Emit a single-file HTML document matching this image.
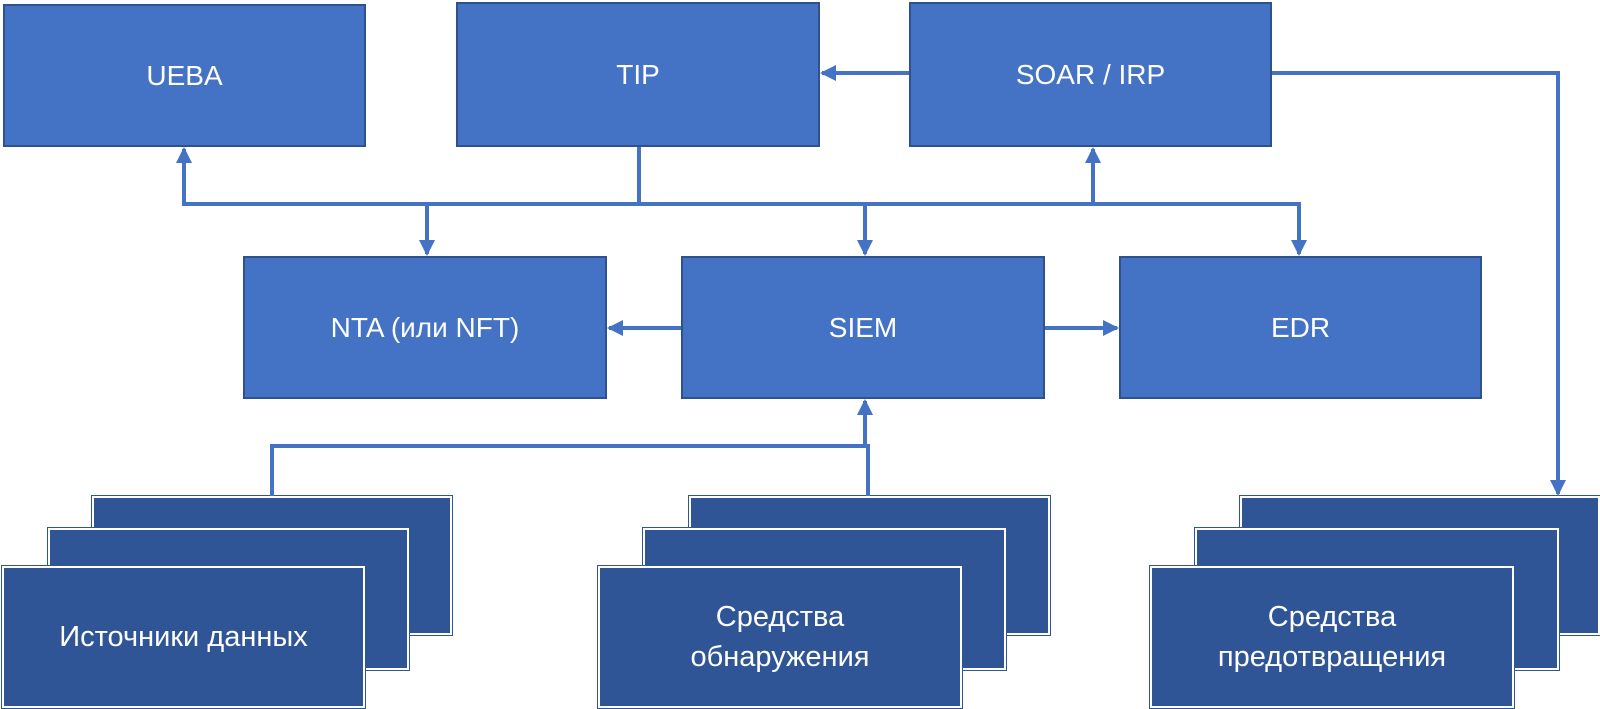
<!DOCTYPE html>
<html><head><meta charset="utf-8"><style>
body{margin:0;background:#fff;width:1600px;height:709px;overflow:hidden;position:relative;font-family:"Liberation Sans","DejaVu Sans",sans-serif}
.b{position:absolute;box-sizing:border-box;background:#4472C4;border:2px solid #2F528F;color:#fff;display:flex;align-items:center;justify-content:center;text-align:center;font-size:28px;line-height:36px}
.d{position:absolute;box-sizing:border-box;background:#2F5597;border:2px solid #fff;outline:1px solid #2F5597;color:#fff;display:flex;align-items:center;justify-content:center;text-align:center;font-size:29px;line-height:40px}
svg{position:absolute;left:0;top:0}
</style></head><body>
<div class="b" style="left:3px;top:4px;width:363px;height:143px">UEBA</div>
<div class="b" style="left:456px;top:2px;width:364px;height:145px">TIP</div>
<div class="b" style="left:909px;top:2px;width:363px;height:145px">SOAR / IRP</div>
<div class="b" style="left:243px;top:256px;width:364px;height:143px">NTA (или NFT)</div>
<div class="b" style="left:681px;top:256px;width:364px;height:143px">SIEM</div>
<div class="b" style="left:1119px;top:256px;width:363px;height:143px">EDR</div>

<div class="d" style="left:92px;top:496px;width:360px;height:139px"></div>
<div class="d" style="left:48px;top:528px;width:361px;height:142px"></div>
<div class="d" style="left:2px;top:566px;width:363px;height:142px">Источники данных</div>

<div class="d" style="left:689px;top:496px;width:361px;height:139px"></div>
<div class="d" style="left:643px;top:528px;width:363px;height:142px"></div>
<div class="d" style="left:598px;top:566px;width:364px;height:142px">Средства<br>обнаружения</div>

<div class="d" style="left:1240px;top:496px;width:360px;height:139px"></div>
<div class="d" style="left:1195px;top:528px;width:364px;height:142px"></div>
<div class="d" style="left:1150px;top:566px;width:364px;height:142px">Средства<br>предотвращения</div>

<svg width="1600" height="709" viewBox="0 0 1600 709">
<defs><marker id="a" markerWidth="4" markerHeight="4" refX="3.5" refY="2" orient="auto" markerUnits="strokeWidth"><path d="M0,0 L4,2 L0,4 Z" fill="#4472C4"/></marker></defs>
<g stroke="#4472C4" stroke-width="4" fill="none">
<path d="M182,204 H1301"/>
<path d="M639,147 V204"/>
<path d="M184,204 V149" marker-end="url(#a)"/>
<path d="M1093,204 V149" marker-end="url(#a)"/>
<path d="M427,204 V254" marker-end="url(#a)"/>
<path d="M865,204 V254" marker-end="url(#a)"/>
<path d="M1299,204 V254" marker-end="url(#a)"/>
<path d="M909,73 H822" marker-end="url(#a)"/>
<path d="M1272,73 H1558 V494" marker-end="url(#a)"/>
<path d="M681,328 H609" marker-end="url(#a)"/>
<path d="M1045,328 H1117" marker-end="url(#a)"/>
<path d="M272,496 V446 H868 V496"/>
<path d="M865,446 V401" marker-end="url(#a)"/>
</g>
</svg>
</body></html>
